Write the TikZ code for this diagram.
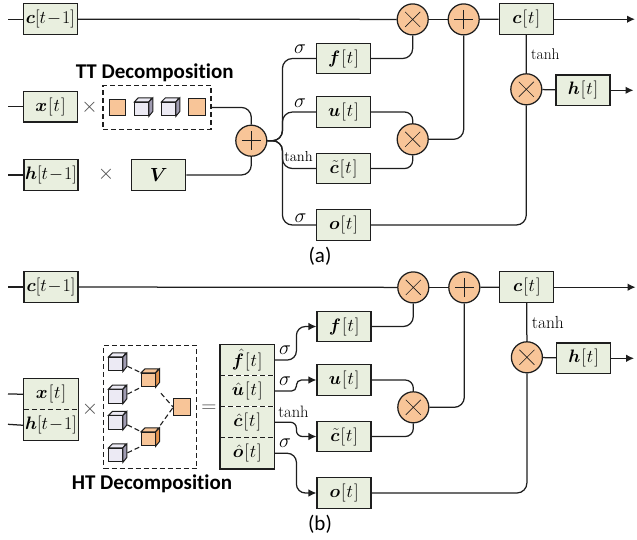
\RequirePackage{fix-cm}
\documentclass[tikz,border=0pt]{standalone}
\usepackage{amsmath}
\usepackage{bm}
\usepackage{fontspec}
\newfontfamily\capfont[Ligatures=NoCommon]{Carlito}
\usetikzlibrary{positioning}
\usetikzlibrary{arrows.meta}
\usetikzlibrary{calc}

\definecolor{boxgreen}{HTML}{E9EFDF}
\definecolor{opsorange}{HTML}{F8C598}
\definecolor{sideorange}{HTML}{E8944E}
\definecolor{cubelight}{HTML}{ECEAF4}
\definecolor{cubeside}{HTML}{A09CB2}
\definecolor{inkdark}{HTML}{1E1E1E}

\tikzset{
	wire/.style={draw=inkdark, line width=1.25pt},
	tipwire/.style={wire, -{Latex[length=8pt,width=7.5pt]}},
	cutline/.style={draw=inkdark, line width=1.25pt, dash pattern=on 5pt off 3pt},
	databox/.style={draw=inkdark, fill=boxgreen, line width=1.25pt, minimum width=54pt, minimum height=30.7pt, inner sep=0pt, font=\fontsize{18}{20}\selectfont},
	cellbox/.style={fill=boxgreen, minimum width=54pt, minimum height=30.7pt, inner sep=0pt, font=\fontsize{18}{20}\selectfont},
	opnode/.style={circle, draw=inkdark, fill=opsorange, line width=1.25pt, minimum size=31pt, inner sep=0pt},
	mulnode/.style={opnode, path picture={\draw[inkdark, line width=0.6pt] ([shift={(-7.5,-7.5)}]path picture bounding box.center) -- ++(15,15) ([shift={(-7.5,7.5)}]path picture bounding box.center) -- ++(15,-15);}},
	addnode/.style={opnode, path picture={\draw[inkdark, line width=0.6pt] ([shift={(-9.5,0)}]path picture bounding box.center) -- ++(19,0) ([shift={(0,-9.5)}]path picture bounding box.center) -- ++(0,19);}},
	dashbox/.style={cutline, inner sep=0pt},
	squarenode/.style={draw=inkdark, fill=opsorange, line width=1pt, minimum size=16.5pt, inner sep=0pt},
	cubeface/.style={draw=inkdark, line width=1pt, minimum size=13.5pt, inner sep=0pt},
	treewire/.style={draw=inkdark, line width=1.1pt, dash pattern=on 5pt off 3pt},
	timesnode/.style={text=black!70, inner sep=0pt, font=\fontsize{21}{22}\selectfont},
	caplabel/.style={inner sep=0pt, font=\capfont\fontsize{21}{22}\selectfont},
	titlelabel/.style={inner sep=0pt, font=\capfont\bfseries\fontsize{21}{22}\selectfont},
	smalllabel/.style={inner sep=0pt, font=\fontsize{#1}{18}\selectfont}
}

% the [t] of the short labels
\newcommand{\att}[1]{#1\mskip1mu[\mskip1mu t\mskip1mu]}

% name, x, y, front colour, side colour
\newcommand{\cubeat}[5]{
	\node[cubeface, fill=#4] (#1) at (#2,#3) {};
	\draw[draw=inkdark, line width=1pt, fill=#4] (#1.north west) -- ++(4,-4) -- ++(13.5,0) -- (#1.north east) -- cycle;
	\draw[draw=inkdark, line width=1pt, fill=#5] (#1.north east) -- ++(4,-4) -- ++(0,13.5) -- (#1.south east) -- cycle;
}

\begin{document}
\begin{tikzpicture}[x=1pt, y=-1pt]
	\useasboundingbox (0,0) rectangle (637,539);

	% The right part is the same in both panels
	\foreach \p/\dx/\dy/\tsize in {a/0/0/15.5, b/0.6/268/17.5}
	{
		\begin{scope}[shift={(\dx,\dy)}]
			\foreach \n/\px/\py/\lab in {f/343.5/58.5/\bm{f}, u/343.5/112/\bm{u}, g/343.5/168.5/\tilde{\bm{c}}, o/343.5/225/\bm{o}, c/526.2/19.2/\bm{c}, h/583/90.3/\bm{h}}
				{\node[databox] (\n\p) at (\px,\py) {$\att{\lab}$};}

			\node[mulnode] (mf\p) at (412.7,19.4) {};
			\node[addnode] (ad\p) at (463.7,19.4) {};
			\node[mulnode] (mu\p) at (412.7,139.3) {};
			\node[mulnode] (mh\p) at (526.3,89.3) {};

			\draw[wire] (mf\p) -- (ad\p);
			\draw[wire] (ad\p) -- (c\p);
			\draw[tipwire] (c\p) -- (635,19.2);
			\draw[wire, rounded corners=10pt] (f\p) -| (mf\p);
			\draw[wire, rounded corners=8pt] (u\p) -| (mu\p);
			\draw[wire, rounded corners=8pt] (g\p) -| (mu\p);
			\draw[wire, rounded corners=10pt] (mu\p) -| (ad\p);
			\draw[wire] (c\p) -- (mh\p);
			\draw[wire] (mh\p) -- (h\p);
			\draw[tipwire] (h\p) -- (633.5,90.3);
			\draw[wire, rounded corners=10pt] (o\p) -| (mh\p);

			\node[smalllabel=\tsize, anchor=west] (tanhc\p) at (531,54) {$\tanh$};
		\end{scope}
	}

	% Panel (a), left part
	\node[databox] (ca) at (50.4,19.2) {$\bm{c}[t\!-\!1]$};
	\node[databox] (xa) at (50.4,106.7) {$\att{\bm{x}}$};
	\node[databox] (ha) at (51,175) {$\bm{h}[t\!-\!1]$};
	\node[databox, font=\fontsize{19}{22}\selectfont] (va) at (158.7,175) {$\bm{V}$};
	\node[timesnode] (tma) at (89.5,107) {$\times$};
	\node[timesnode] (tmb) at (106,174.5) {$\times$};
	\node[dashbox, minimum width=108pt, minimum height=43.5pt] (ttbox) at (157,107.4) {};
	\node[titlelabel] (tttitle) at (154.7,72.5) {TT Decomposition};
	\node[squarenode] (tta) at (117.5,107.3) {};
	\cubeat{ttb}{141.7}{109}{cubelight}{cubeside}
	\cubeat{ttc}{168.7}{109}{cubelight}{cubeside}
	\node[squarenode] (ttd) at (197.2,106.8) {};
	\node[addnode] (ada) at (251.3,140.7) {};
	\coordinate (ina) at (8,19.2);
	\coordinate (inb) at (8,106.7);
	\coordinate (inc) at (8,175);

	\draw[wire] (ina) -- (ca);
	\draw[wire] (inb) -- (xa);
	\draw[wire] (inc) -- (ha);
	\draw[wire] (ca) -- (mfa);
	\draw[wire, rounded corners=10pt] (ttbox) -| (ada);
	\draw[wire, rounded corners=10pt] (va) -| (ada);
	\foreach \n in {f,u,g,o}
		{\draw[wire, rounded corners=10pt] (ada.east) -- +(15,0) |- (\n a.west);}

	\node[smalllabel=20] (siga) at (300,49) {$\sigma$};
	\node[smalllabel=20] (sigb) at (300,103) {$\sigma$};
	\node[smalllabel=14.5] (tanha) at (298.5,156.5) {$\tanh$};
	\node[smalllabel=20] (sigc) at (300.5,218.5) {$\sigma$};
	\node[caplabel] (capa) at (320,256) {(a)};

	% Panel (b), left part
	\node[databox] (cb) at (51,287) {$\bm{c}[t\!-\!1]$};
	\node[cellbox] (xb) at (51,394.2) {$\att{\bm{x}}$};
	\node[cellbox, below=0pt of xb] (hb) {$\bm{h}[t\!-\!1]$};
	\draw[wire] (xb.north west) rectangle (hb.south east);
	\draw[cutline] (xb.south west) -- (xb.south east);
	\node[timesnode] (tmc) at (90,409.5) {$\times$};

	\node[dashbox, minimum width=93pt, minimum height=123.4pt] (htbox) at (150,407) {};
	\cubeat{qa}{115.7}{364.2}{cubelight}{cubeside}
	\cubeat{qb}{115.7}{396.4}{cubelight}{cubeside}
	\cubeat{qc}{115.7}{422.6}{cubelight}{cubeside}
	\cubeat{qd}{115.7}{455}{cubelight}{cubeside}
	\cubeat{pa}{148.4}{380}{opsorange}{sideorange}
	\cubeat{pb}{148.4}{439}{opsorange}{sideorange}
	\node[squarenode] (pc) at (182,407.2) {};
	\node[titlelabel] (httitle) at (152,483.5) {HT Decomposition};
	\node[timesnode] (eqa) at (209,409) {$=$};

	\draw[treewire, shorten <=5pt] (qa.east) -- (pa.north west);
	\draw[treewire, shorten <=5pt] (qb.east) -- (pa.south west);
	\draw[treewire, shorten <=5pt] (qc.east) -- (pb.north west);
	\draw[treewire, shorten <=5pt] (qd.east) -- (pb.south west);
	\draw[treewire, shorten <=8pt] (pa.south east) -- (pc.west);
	\draw[treewire, shorten <=8pt] (pb.north east) -- (pc.west);

	\node[cellbox] (fs) at (247.2,360) {$\att{\hat{\bm{f}}}$};
	\node[cellbox, below=0pt of fs] (us) {$\att{\hat{\bm{u}}}$};
	\node[cellbox, below=0pt of us] (gs) {$\att{\hat{\bm{c}}}$};
	\node[cellbox, below=0pt of gs] (os) {$\att{\hat{\bm{o}}}$};
	\draw[wire, line width=1.6pt] (fs.north west) rectangle (os.south east);
	\foreach \n in {fs,us,gs}
		{\draw[cutline] (\n.south west) -- (\n.south east);}

	\coordinate (ind) at (8,287);
	\coordinate (ine) at (8,394);
	\coordinate (inf) at (8,424.3);
	\draw[wire] (ind) -- (cb);
	\draw[wire] (ine) -- (xb.west);
	\draw[wire] (inf) -- (hb.west);
	\draw[wire] (cb) -- (mfb);

	\draw[tipwire, rounded corners=9pt] (fs.east) -- +(22,0) |- (fb.west);
	\draw[tipwire, rounded corners=5pt] (us.east) -- +(22,0) |- (ub.west);
	\draw[tipwire, rounded corners=6pt] (gs.east) -- +(22,0) |- (gb.west);
	\draw[tipwire, rounded corners=9pt] (os.east) -- +(22,0) |- (ob.west);

	\node[smalllabel=20] (sigd) at (285,350) {$\sigma$};
	\node[smalllabel=20] (sige) at (285,381.5) {$\sigma$};
	\node[smalllabel=16.5] (tanhb) at (293.5,412) {$\tanh$};
	\node[smalllabel=20] (sigf) at (285,443.5) {$\sigma$};
	\node[caplabel] (capb) at (320,524.5) {(b)};
\end{tikzpicture}
\end{document}
